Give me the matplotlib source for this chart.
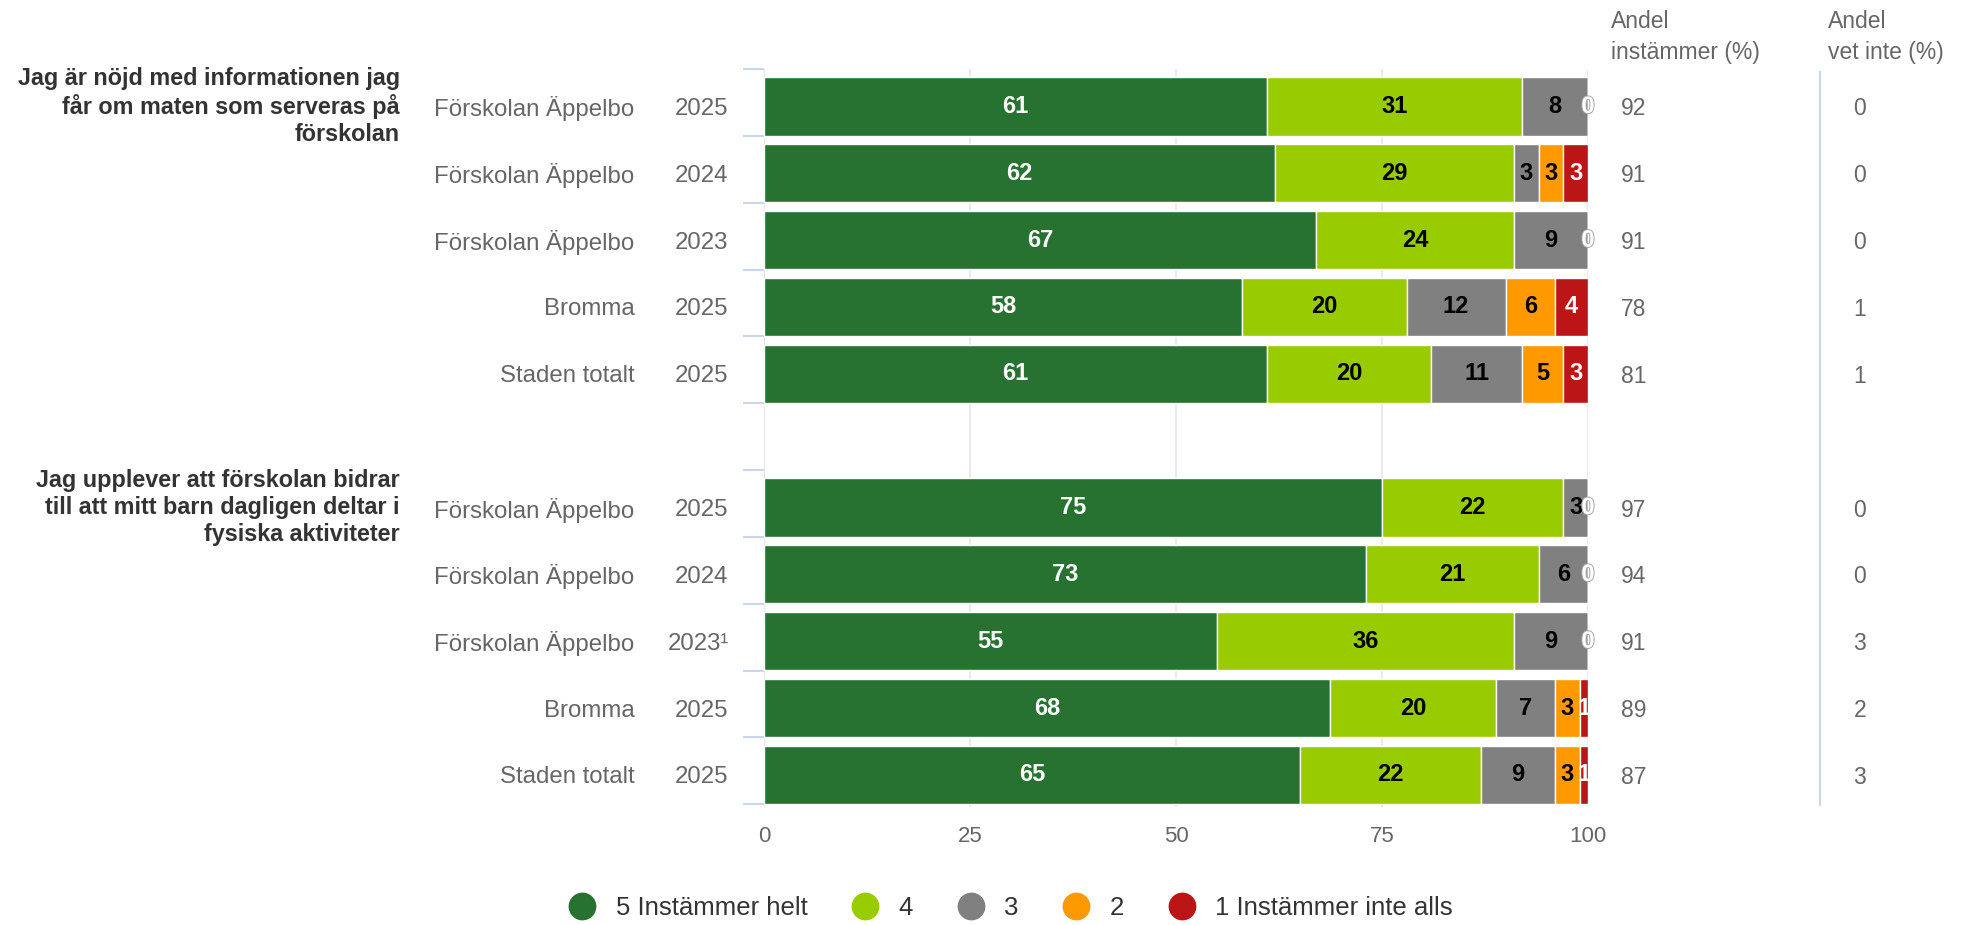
import numpy as np
import matplotlib.pyplot as plt
import matplotlib.patheffects as pe
from matplotlib.lines import Line2D

plt.rcParams['font.family'] = ['Liberation Sans', 'DejaVu Sans']

# questions (group labels)
questions = [
    'Jag är nöjd med informationen jag\nfår om maten som serveras på\nförskolan',
    'Jag upplever att förskolan bidrar\ntill att mitt barn dagligen deltar i\nfysiska aktiviteter',
]
units = ['Förskolan Äppelbo', 'Förskolan Äppelbo', 'Förskolan Äppelbo', 'Bromma', 'Staden totalt']
years_q1 = ['2025', '2024', '2023', '2025', '2025']
years_q2 = ['2025', '2024', '2023¹', '2025', '2025']

series_names = ['5 Instämmer helt', '4', '3', '2', '1 Instämmer inte alls']
colors = ['#277230', '#99cc00', '#808080', '#ff9900', '#bb1515']
label_colors = ['white', 'black', 'black', 'black', 'white']

s5 = [61, 62, 67, 58, 61, 75, 73, 55, 68, 65]
s4 = [31, 29, 24, 20, 20, 22, 21, 36, 20, 22]
s3 = [8, 3, 9, 12, 11, 3, 6, 9, 7, 9]
s2 = [0, 3, 0, 6, 5, 0, 0, 0, 3, 3]
s1 = [0, 3, 0, 4, 3, 0, 0, 0, 1, 1]

andel_instammer = [92, 91, 91, 78, 81, 97, 94, 91, 89, 87]
andel_vet_inte = [0, 0, 0, 1, 1, 0, 0, 3, 2, 3]

# row positions, with an empty slot between the two questions
ypos = [0, 1, 2, 3, 4, 6, 7, 8, 9, 10]

fig = plt.figure(figsize=(19.7, 9.25), dpi=100)
ax = fig.add_axes([764 / 1970, 118 / 925, 824 / 1970, 738 / 925])

vals = np.array([s5, s4, s3, s2, s1], dtype=float)
pct = vals / vals.sum(axis=0) * 100  # percent stacking
left = np.zeros(len(ypos))
zero_fx = [pe.withStroke(linewidth=1.2, foreground='#aaaaaa')]
for i, name in enumerate(series_names):
    ax.barh(ypos, pct[i], left=left, height=0.87, color=colors[i],
            edgecolor='white', linewidth=1, zorder=3)
    for y, l, w, v in zip(ypos, left, pct[i], vals[i]):
        if v == 0:
            ax.text(l + w / 2, y, '0', ha='center', va='center', fontsize=17,
                    fontweight='bold', color='white', zorder=4, path_effects=zero_fx)
        else:
            ax.text(l + w / 2, y, f'{int(v)}', ha='center', va='center',
                    fontsize=17, fontweight='bold', color=label_colors[i], zorder=4)
    left += pct[i]

ax.set_xlim(0, 100)
ax.set_ylim(10.48, -0.56)
ax.set_xticks([0, 25, 50, 75, 100])
ax.tick_params(axis='x', length=0, labelsize=16, labelcolor='#666666', pad=14)
ax.grid(axis='x', color='#e6e6e6', linewidth=1.2, zorder=0)
ax.set_yticks([])
ax.set_yticks(np.arange(-0.5, 11, 1) - 0.06, minor=True)
ax.tick_params(axis='y', which='minor', length=15, width=1.5, color='#ccd6eb',
               labelleft=False)
for s in ['top', 'right', 'bottom']:
    ax.spines[s].set_visible(False)
ax.spines['left'].set_color('#e6e6e6')

tr = ax.get_yaxis_transform()
all_years = years_q1 + years_q2
for k, y in enumerate(ypos):
    ax.text(-0.157, y, units[k % 5], transform=tr, ha='right', va='center_baseline',
            fontsize=17.3, color='#666666')
    ax.text(-0.043, y, all_years[k], transform=tr, ha='right', va='center_baseline',
            fontsize=17.3, color='#666666')
    ax.text(1.055, y, str(andel_instammer[k]), transform=tr, ha='center',
            va='center_baseline', fontsize=16.5, color='#666666')
    ax.text(1.33, y, str(andel_vet_inte[k]), transform=tr, ha='center',
            va='center_baseline', fontsize=16.5, color='#666666')

for q, y in zip(questions, [0, 6]):
    ax.text(-0.442, y, q, transform=tr, ha='right', va='center', fontsize=16.8,
            fontweight='bold', color='#333333', linespacing=1.22)

# headers of the extra columns
fig.text(1611 / 1970, 1 - 37 / 925, 'Andel\ninstämmer (%)', ha='left',
         va='center', fontsize=16.5, color='#666666', linespacing=1.5)
fig.text(1828 / 1970, 1 - 37 / 925, 'Andel\nvet inte (%)', ha='left',
         va='center', fontsize=16.5, color='#666666', linespacing=1.5)
fig.add_artist(Line2D([1820 / 1970, 1820 / 1970], [1 - 72 / 925, 1 - 805 / 925],
                      color='#ccd6eb', linewidth=1.5))

handles = [Line2D([], [], marker='o', linestyle='none', markersize=19,
                  markerfacecolor=c, markeredgecolor=c) for c in colors]
fig.legend(handles, series_names, loc='center', bbox_to_anchor=(0.51, 17 / 925),
           ncol=5, frameon=False, fontsize=18.5, handletextpad=0.3,
           columnspacing=1.25, labelcolor='#333333')

fig.savefig('out.png', dpi=100)
